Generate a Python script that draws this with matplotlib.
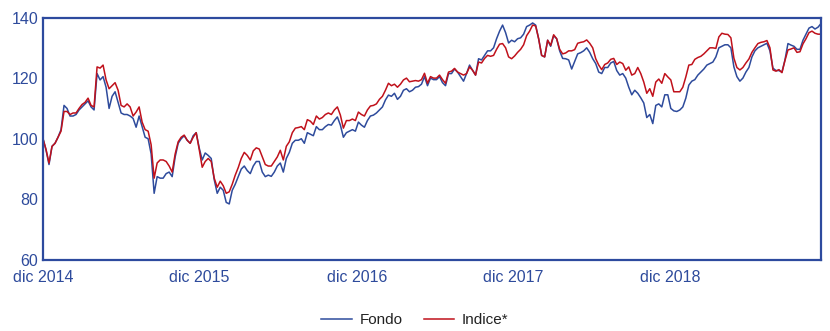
import numpy as np
import pandas as pd
import matplotlib
matplotlib.use("Agg")
import matplotlib.pyplot as plt
import matplotlib.dates as mdates

plt.rcParams["font.family"] = ["Liberation Sans", "DejaVu Sans"]

# Weekly NAV of the fund and its benchmark, base 100 at Dec 2014
fondo = [
    100, 96.3, 91.5, 97.5, 98.5, 100.5, 103, 111, 110, 107.5,
    107.5, 108, 109.5, 110.5, 111.5, 112.5, 110.5, 109.5, 121.5, 119.4,
    120.5, 117, 110, 114, 115.5, 112, 108.5, 108, 108, 107.5,
    106.7, 103.8, 107.5, 104, 100.5, 100, 95, 82, 87.5, 87,
    87, 88.5, 89, 87.5, 94, 98.5, 100, 101, 99.5, 98.5,
    101, 102, 97, 93, 95.3, 94.5, 93.5, 86.5, 82, 84,
    83, 79, 78.5, 83, 85, 87.5, 90, 91, 89.5, 88.5,
    91, 92.5, 92.5, 89, 87.5, 88, 87.6, 89, 91, 92,
    89, 93.5, 95.5, 98.5, 99.5, 99.5, 100, 98.5, 102, 101.5,
    101, 104, 103, 103, 104, 104.7, 104.5, 106, 107.2, 104.5,
    100.5, 102, 102.5, 103, 102.5, 105.5, 104.5, 103.8, 106, 107.5,
    107.8, 108.5, 109.5, 110.5, 112.8, 114.4, 114, 115, 113, 114,
    116, 116.5, 115.5, 116, 117, 117.2, 118, 120.5, 117.5, 120,
    119.5, 119.5, 120.5, 118.5, 117.5, 121.5, 121.5, 123, 122, 120.5,
    119, 121.5, 124.3, 122.6, 121, 126.4, 126, 127.5, 129, 129,
    130, 133, 135.5, 137.5, 135, 131.6, 132.5, 132, 133, 133.3,
    134.5, 137, 137.5, 138.2, 137.5, 133, 127.5, 127, 132.5, 130.5,
    134, 133, 129, 126.5, 126.4, 126, 123, 125.5, 128, 128.4,
    129, 130, 128.5, 126.4, 124.8, 122, 121.5, 123.5, 123.5, 125,
    125.5, 122.5, 121, 121.5, 120, 117, 114.5, 116, 115, 113.5,
    111.8, 107, 108, 105, 111, 111.5, 110.5, 114.5, 114.5, 110,
    109.2, 109, 109.5, 110.5, 113.4, 117.7, 119, 119.5, 121, 122,
    123, 124.3, 124.8, 125.3, 127, 130, 130.5, 131, 131, 130,
    123.7, 120.5, 119, 120, 122, 123.5, 127, 129, 130, 130.5,
    131, 131.5, 129, 123.3, 122.5, 122.5, 122, 126, 131.4, 130.9,
    130.5, 129.5, 129.5, 132.5, 134.5, 136.5, 137, 136.2, 136.8, 138,
]
indice = [
    100, 96.5, 92, 97.5, 98.5, 100.5, 102.5, 109, 109, 108,
    108.5, 108.5, 110, 111.3, 112, 113.4, 111, 110.5, 123.7, 123.3,
    124.3, 119.4, 116.5, 117.5, 118.5, 116, 111, 110.5, 111.5, 110.5,
    107.5, 108.8, 110.5, 105.5, 103, 102.5, 98, 87, 92, 93,
    93, 92.5, 91, 89, 95, 99, 100.5, 101.2, 99.5, 98.5,
    100.5, 102, 96.5, 90.6, 92.5, 93.5, 92.5, 87, 84, 86,
    84.5, 82, 82.5, 85, 88, 90.5, 93.5, 95.5, 94.5, 93,
    96, 97, 96.6, 94, 91.5, 91, 91, 92.5, 94, 96.2,
    93, 97.5, 99, 102, 103.5, 103.7, 104, 103, 106.3, 105.8,
    104.7, 107.5, 106.5, 107, 108, 108.5, 108, 109.5, 110.5, 107.8,
    103.5, 106, 106, 106.5, 106, 108.8, 108, 107.5, 109.5, 110.8,
    111, 111.5, 113, 114, 116, 118.3, 117.5, 118, 117, 118,
    119.4, 120, 118.8, 119, 119.2, 119, 119.5, 121.6, 118.3, 120.5,
    120, 120, 121, 119.5, 118.3, 122, 122.3, 123.2, 122, 121.5,
    121, 121.5, 123.7, 122.6, 121, 125.3, 125, 126.5, 127.5, 127.2,
    127.5, 129.5, 131.2, 131.4, 130, 127, 126.4, 127.3, 128.5, 129.5,
    131, 134, 135.5, 137.5, 137.2, 133, 127.5, 127, 132.5, 130.8,
    134.3, 133, 129.5, 128, 128.3, 129, 129, 129.4, 131.5, 131.8,
    132, 132.6, 131.5, 130, 126.4, 124.3, 122.8, 124.5, 125, 126.2,
    126.5, 124.5, 125.3, 124.8, 122.6, 123.7, 121, 121.5, 123.5, 121.5,
    118.7, 115, 116.5, 114, 118.7, 119.7, 118.3, 121.5, 120.4, 119.4,
    115.5, 115.5, 115.5, 117, 120.4, 124.3, 124.5, 126.2, 126.8, 127.2,
    128, 129, 130, 130, 129.8, 133.6, 134.8, 134.5, 134.4, 133.3,
    126.6, 123.5, 122.7, 123.5, 125, 126.3, 128.5, 130, 131.4, 131.8,
    132, 132.4, 130, 122.7, 122.3, 122.8, 121.8, 125.8, 129.3, 129.6,
    130, 128.5, 128.7, 131.3, 133, 135, 135.5, 134.8, 134.5, 134.5,
]
dates = pd.date_range("2014-12-01", periods=len(fondo), freq="7D")

tick_dates = pd.to_datetime(["2014-12-01", "2015-12-01", "2016-12-01",
                             "2017-12-01", "2018-12-01"])
tick_labels = ["dic 2014", "dic 2015", "dic 2016", "dic 2017", "dic 2018"]
y_ticks = [60, 80, 100, 120, 140]

BLUE = "#2e4b9c"
RED = "#c0111b"
FRAME = "#2d4a9e"

fig = plt.figure(figsize=(8.30, 3.31), dpi=100)
ax = fig.add_axes([43 / 830, 1 - 260 / 331, 778 / 830, 242.5 / 331])

ax.plot(dates, fondo, color=BLUE, lw=1.1, label="Fondo")
ax.plot(dates, indice, color=RED, lw=1.1, label="Indice*")

ax.set_xlim(dates[0], dates[-1])
ax.set_ylim(60, 140)
ax.set_yticks(y_ticks)
ax.set_xticks(tick_dates)
ax.set_xticklabels(tick_labels)
ax.tick_params(axis="both", length=0, labelsize=11.5, labelcolor=BLUE)
ax.tick_params(axis="y", pad=3.5)
ax.tick_params(axis="x", pad=7)

for sp in ax.spines.values():
    sp.set_color(FRAME)
    sp.set_linewidth(1.6)

leg = fig.legend(loc="center", bbox_to_anchor=(0.5, 1 - 320 / 331), ncol=2,
                 frameon=False, fontsize=11, handlelength=2.0,
                 columnspacing=1.4, handletextpad=0.5)
for txt in leg.get_texts():
    txt.set_color("#222222")

fig.savefig("out.png", dpi=100)
